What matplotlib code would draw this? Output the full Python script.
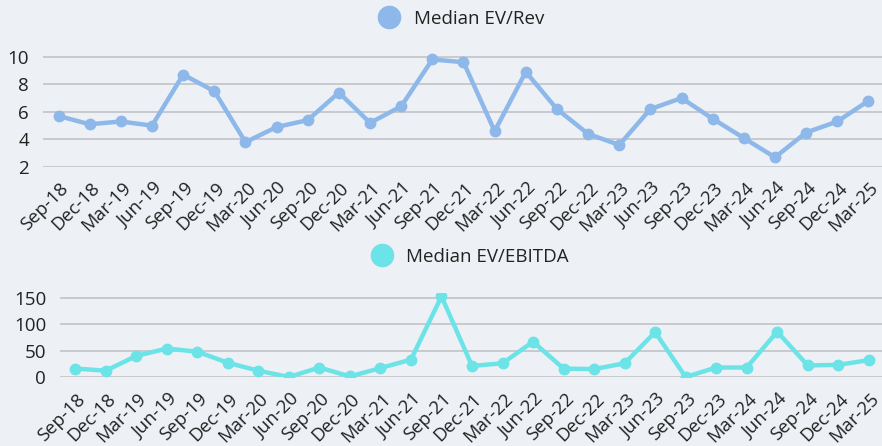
import matplotlib
matplotlib.use("Agg")
import matplotlib.pyplot as plt
from matplotlib.transforms import ScaledTranslation
from matplotlib.lines import Line2D

quarters = ["Sep-18", "Dec-18", "Mar-19", "Jun-19", "Sep-19", "Dec-19", "Mar-20",
            "Jun-20", "Sep-20", "Dec-20", "Mar-21", "Jun-21", "Sep-21", "Dec-21",
            "Mar-22", "Jun-22", "Sep-22", "Dec-22", "Mar-23", "Jun-23", "Sep-23",
            "Dec-23", "Mar-24", "Jun-24", "Sep-24", "Dec-24", "Mar-25"]
ev_rev = [5.7, 5.1, 5.3, 5.0, 8.7, 7.5, 3.8, 4.9, 5.4, 7.4, 5.2, 6.4, 9.8, 9.6,
          4.6, 8.9, 6.2, 4.4, 3.6, 6.2, 7.0, 5.5, 4.1, 2.7, 4.5, 5.3, 6.8]
ev_ebitda = [16, 12, 40, 54, 48, 27, 12, 0, 18, 1, 17, 33, 153, 21,
             26, 67, 16, 15, 26, 85, 0, 18, 18, 86, 22, 23, 32]
rev_ticks = [2, 4, 6, 8, 10]
ebitda_ticks = [0, 50, 100, 150]

BG = "#EDF1F5"
C_REV = "#8DB8E9"
C_EBITDA = "#6CE3E7"
GRID = "#BDBFC2"
TXT = "#222222"

plt.rcParams['font.family'] = ['Open Sans', 'DejaVu Sans']

W, H = 882, 446
fig = plt.figure(figsize=(W / 100, H / 100), dpi=100)
fig.patch.set_facecolor(BG)

def px_axes(left, right, top, bottom):
    return fig.add_axes([left / W, 1 - bottom / H, (right - left) / W, (bottom - top) / H])

ax1 = px_axes(43, 884, 49.8, 167)
ax2 = px_axes(60, 884, 292.7, 377)

def style(ax, ticks, ylim, color, values, label, clip, legend_y, dy):
    ax.set_facecolor(BG)
    x = list(range(len(quarters)))
    ax.plot(x, values, color=color, lw=3.2, marker='o', ms=7.5, clip_on=clip,
            solid_joinstyle='round', zorder=3)
    ax.set_xlim(-0.5, len(quarters) - 0.5)
    ax.set_ylim(*ylim)
    ax.set_yticks(ticks)
    ax.set_yticklabels([str(t) for t in ticks])
    ax.set_xticks(x)
    ax.set_xticklabels(quarters)
    for s in ax.spines.values():
        s.set_visible(False)
    ax.grid(axis='y', color=GRID, lw=1.1)
    ax.set_axisbelow(True)
    ax.tick_params(axis='y', length=0, pad=10, labelsize=13.5, labelcolor=TXT)
    ax.tick_params(axis='x', length=0, pad=0, labelsize=13.3, labelcolor=TXT)
    off = ScaledTranslation(1 / 100, -dy / 100, fig.dpi_scale_trans)
    for lab in ax.get_xticklabels():
        lab.set_rotation(45)
        lab.set_ha('right')
        lab.set_va('top')
        lab.set_rotation_mode('anchor')
        lab.set_transform(lab.get_transform() + off)
    bw = ax.get_position().width * W
    h = Line2D([], [], color=color, marker='o', ls='none', ms=16)
    ax.legend([h], [label], loc='center', bbox_to_anchor=(0.5 - 6 / bw, legend_y),
              frameon=False, fontsize=13.5, handletextpad=0.3,
              labelcolor=TXT, borderaxespad=0)

style(ax1, rev_ticks, (2, 10.5), C_REV, ev_rev, "Median EV/Rev", False, 1 + 31 / 117.2, 12)
style(ax2, ebitda_ticks, (0, 160), C_EBITDA, ev_ebitda, "Median EV/EBITDA", True, 1 + 36 / 84.3, 13)

fig.savefig("out.png", dpi=100, facecolor=BG)
